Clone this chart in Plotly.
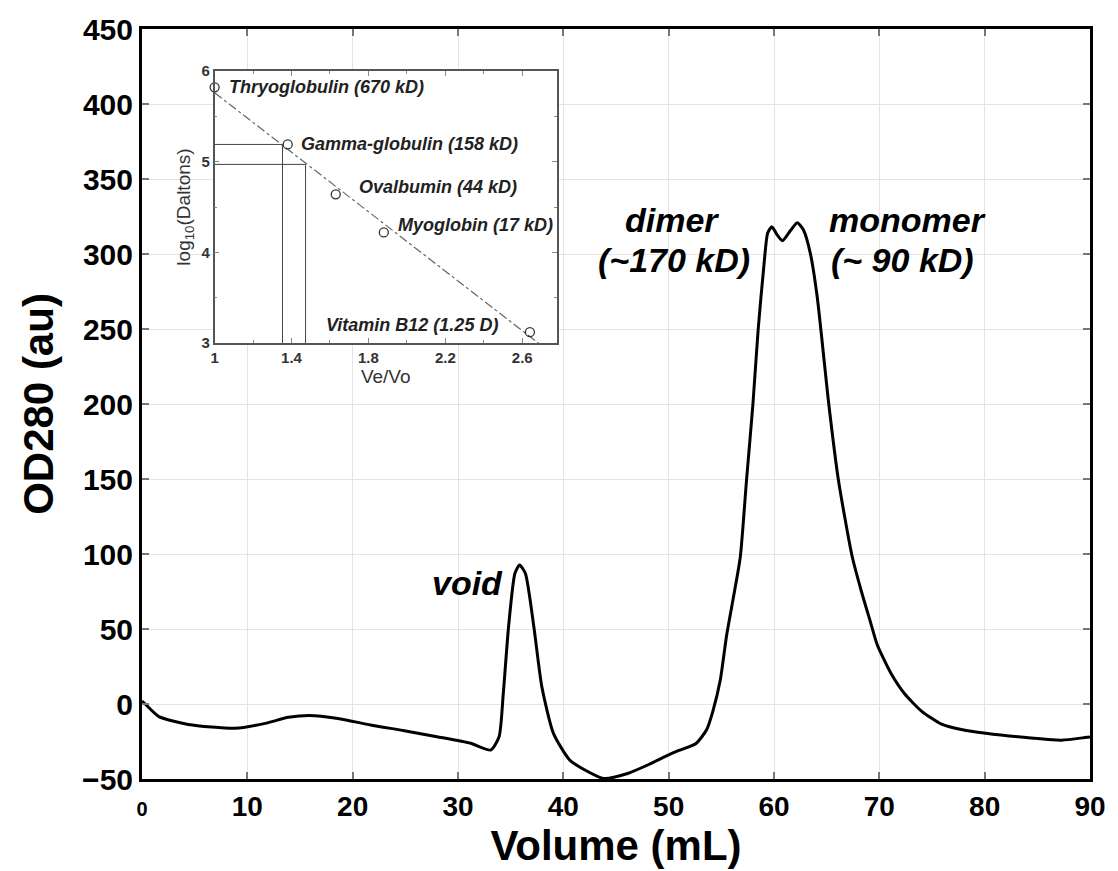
import plotly.graph_objects as go

# ---- main chromatogram ----
volume_ml = [0, 0.3, 1.6, 4.4, 8.85, 11.7, 13.9, 15.9, 18.6, 21.7, 24.9, 28.0, 31.2, 33.1,
             33.9, 34.3, 34.8, 35.4, 35.85, 36.4, 37.2, 37.96, 39.06, 40.6, 42.05, 43.85,
             46.1, 48.06, 50.0, 51.0, 52.6, 53.6, 54.2, 54.9, 55.5, 56.2, 56.8, 57.4, 58.0,
             58.5, 59.05, 59.4, 59.8, 60.3, 60.8, 61.6, 62.2, 62.8, 63.45, 64.1, 65.2,
             66.1, 67.4, 68.3, 69.1, 69.8, 71.1, 72.4, 74.0, 75.9, 77.9, 80.1, 83.4,
             87.3, 89.7, 90]
od280_au = [2, 0, -8.4, -13.6, -16.2, -12.9, -8.9, -7.6, -9.6, -14, -17.8, -21.8, -26.2, -30.7,
            -21.8, 7.1, 51.5, 87, 92.7, 87, 51.5, 11.5, -19.6, -37.3, -44, -49.7,
            -46.3, -40.5, -33.9, -30.9, -26.3, -17.2, -4.7, 16, 45.7, 73.1, 98, 150, 200,
            250, 293, 314, 318.2, 312.7, 308.9, 316, 320.9, 316, 300.4, 271.5, 200,
            150, 99, 75, 56, 39.5, 20.5, 6.8, -4.7, -13.4, -17.2, -19.5, -22,
            -24.1, -22.2, -22]

x_ticks = [0, 10, 20, 30, 40, 50, 60, 70, 80, 90]
x_tick_labels = ["<span style='font-size:20px'>0</span>", "10", "20", "30", "40", "50",
                 "60", "70", "80", "90"]
y_ticks = [-50, 0, 50, 100, 150, 200, 250, 300, 350, 400, 450]

# ---- inset calibration ----
standards = ["Thryoglobulin (670 kD)", "Gamma-globulin (158 kD)", "Ovalbumin (44 kD)",
             "Myoglobin (17 kD)", "Vitamin B12 (1.25 D)"]
ve_vo = [1.0, 1.38, 1.63, 1.88, 2.64]
log_daltons = [5.82, 5.19, 4.64, 4.22, 3.12]
fit_x = [1.0, 2.72]
fit_y = [5.76, 2.94]
dimer_ref_x = [1.0, 1.353, 1.353]
dimer_ref_y = [5.19, 5.19, 3.0]
monomer_ref_x = [1.0, 1.473, 1.473]
monomer_ref_y = [4.97, 4.97, 3.0]
label_x = [1.065, 1.44, 1.74, 1.945, 1.567]
label_y = [5.82, 5.19, 4.72, 4.30, 3.20]

fig = go.Figure()
fig.add_trace(go.Scatter(x=volume_ml, y=od280_au, mode="lines",
                         line=dict(color="black", width=3, shape="spline", smoothing=0.6),
                         showlegend=False))

fig.add_trace(go.Scatter(x=fit_x, y=fit_y, mode="lines", xaxis="x2", yaxis="y2",
                         line=dict(color="#666", width=1.2, dash="dashdot"), showlegend=False))
fig.add_trace(go.Scatter(x=dimer_ref_x, y=dimer_ref_y, mode="lines", xaxis="x2", yaxis="y2",
                         line=dict(color="#444", width=1), showlegend=False))
fig.add_trace(go.Scatter(x=monomer_ref_x, y=monomer_ref_y, mode="lines", xaxis="x2", yaxis="y2",
                         line=dict(color="#444", width=1), showlegend=False))
fig.add_trace(go.Scatter(x=ve_vo, y=log_daltons, mode="markers", xaxis="x2", yaxis="y2",
                         cliponaxis=False,
                         marker=dict(symbol="circle-open", size=9, color="#333",
                                     line=dict(width=1.3)), showlegend=False))

for t, lx, ly in zip(standards, label_x, label_y):
    fig.add_annotation(x=lx, y=ly, xref="x2", yref="y2", text="<b><i>%s</i></b>" % t,
                       showarrow=False, xanchor="left", yanchor="middle",
                       font=dict(family="Liberation Sans, Arial", size=18, color="#222"))

main_font = dict(family="Liberation Sans, Arial", size=34, color="black")
for txt, ax, ay in [("void", 30.9, 80.7), ("dimer", 50.3, 322.7), ("(~170 kD)", 50.5, 296),
                    ("monomer", 72.7, 322.7), ("(~ 90 kD)", 72.2, 296)]:
    fig.add_annotation(x=ax, y=ay, xref="x", yref="y", text="<b><i>%s</i></b>" % txt,
                       showarrow=False, xanchor="center", yanchor="middle", font=main_font)

fig.update_layout(
    width=1118, height=871,
    margin=dict(l=142, r=23, t=29, b=92),
    paper_bgcolor="white", plot_bgcolor="white",
    xaxis=dict(range=[0, 90], tickvals=x_ticks, ticktext=x_tick_labels,
               showgrid=True, gridcolor="#e4e4e4", gridwidth=1, zeroline=False,
               showline=True, linecolor="black", linewidth=3, mirror="ticks",
               ticks="inside", ticklen=7, tickcolor="#777", tickwidth=1.5,
               tickfont=dict(family="Liberation Sans, Arial", size=28,
                             color="black", weight="bold"),
               title=dict(text="<b>Volume (mL)</b>", standoff=4,
                          font=dict(family="Liberation Sans, Arial", size=42, color="black"))),
    yaxis=dict(range=[-50, 450], tickvals=y_ticks,
               showgrid=True, gridcolor="#e4e4e4", gridwidth=1, zeroline=False,
               showline=True, linecolor="black", linewidth=3, mirror="ticks",
               ticks="inside", ticklen=7, tickcolor="#777", tickwidth=1.5,
               tickfont=dict(family="Liberation Sans, Arial", size=30, color="black",
                             weight="bold"),
               title=dict(text="<b>OD280 (au)</b>", standoff=16,
                          font=dict(family="Liberation Sans, Arial", size=42, color="black"))),
    xaxis2=dict(domain=[0.0766, 0.4376], anchor="y2", range=[1, 2.78],
                tickvals=[1, 1.4, 1.8, 2.2, 2.6], ticktext=["1", "1.4", "1.8", "2.2", "2.6"],
                minor=dict(dtick=0.2, tick0=1, ticks="inside", ticklen=3, tickcolor="#888"),
                showgrid=False, zeroline=False, showline=True, linecolor="#555", linewidth=1.5,
                mirror="ticks", ticks="inside", ticklen=5, tickcolor="#888",
                tickfont=dict(family="Liberation Sans, Arial", size=15, color="#333",
                              weight="bold"),
                title=dict(text="Ve/Vo", standoff=4,
                           font=dict(family="Liberation Sans, Arial", size=19, color="#333"))),
    yaxis2=dict(domain=[0.5813, 0.944], anchor="x2", range=[3, 6],
                tickvals=[3, 4, 5, 6],
                minor=dict(dtick=0.5, tick0=3, ticks="inside", ticklen=3, tickcolor="#888"),
                showgrid=False, zeroline=False, showline=True, linecolor="#555", linewidth=1.5,
                mirror="ticks", ticks="inside", ticklen=5, tickcolor="#888",
                tickfont=dict(family="Liberation Sans, Arial", size=15, color="#333",
                              weight="bold"),
                title=dict(text="log<sub>10</sub>(Daltons)", standoff=6,
                           font=dict(family="Liberation Sans, Arial", size=19, color="#333"))),
)

fig.write_html("out.html", config={"displayModeBar": False},
               post_script="document.body.style.margin='0px';")
